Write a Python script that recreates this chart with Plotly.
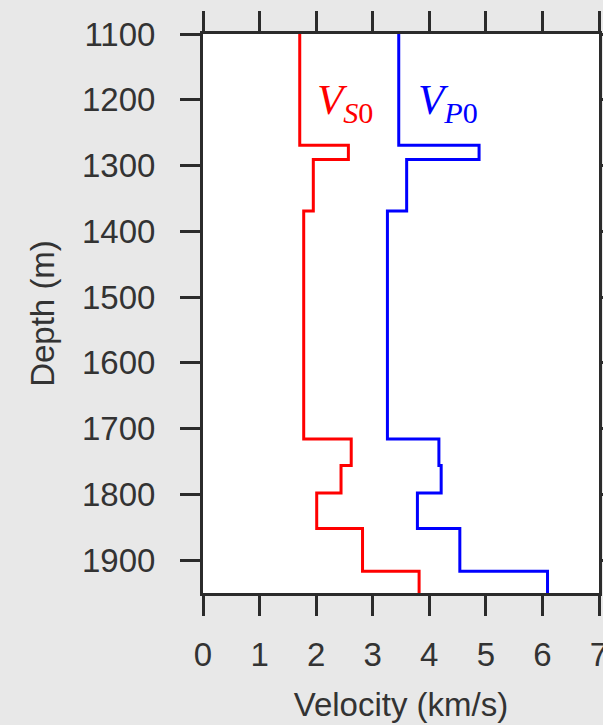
import plotly.graph_objects as go

# Layer boundaries (m) and interval velocities (km/s)
depth_bounds = [1100, 1269, 1291, 1369, 1716, 1756, 1798, 1852, 1917, 1950]
vs0 = [1.71, 2.57, 1.95, 1.78, 2.62, 2.44, 2.01, 2.82, 3.82]
vp0 = [3.46, 4.88, 3.60, 3.26, 4.17, 4.21, 3.79, 4.54, 6.09]

x_ticks = [0, 1, 2, 3, 4, 5, 6, 7]
y_ticks = [1100, 1200, 1300, 1400, 1500, 1600, 1700, 1800, 1900]

AX = "#2b2b2b"
FONT = "Liberation Sans"
FS = 33


def step_xy(vals):
    xs = list(vals) + [vals[-1]]
    ys = list(depth_bounds)
    return xs, ys


fig = go.Figure()
for vals, col in [(vs0, "#ff0000"), (vp0, "#0000ff")]:
    xs, ys = step_xy(vals)
    fig.add_trace(go.Scatter(x=xs, y=ys, mode="lines", line_shape="vh",
                             line=dict(color=col, width=3), showlegend=False,
                             hoverinfo="skip"))

fig.add_annotation(x=1.98, y=1205, xref="x", yref="y", xanchor="left", yanchor="middle",
                   text="<i>V</i><sub><i>S</i>0</sub>", showarrow=False,
                   font=dict(family="Liberation Serif", size=43, color="#ff0000"))
fig.add_annotation(x=3.76, y=1205, xref="x", yref="y", xanchor="left", yanchor="middle",
                   text="<i>V</i><sub><i>P</i>0</sub>", showarrow=False,
                   font=dict(family="Liberation Serif", size=43, color="#0000ff"))

axis_common = dict(showline=True, linecolor=AX, linewidth=3, mirror="ticks",
                   ticks="outside", ticklen=20, tickwidth=3, tickcolor=AX,
                   showgrid=False, zeroline=False, ticklabeloverflow="allow",
                   tickfont=dict(family=FONT, size=FS, color="#333333"))

fig.update_xaxes(range=[0, 7], tickvals=x_ticks, ticktext=[str(t) for t in x_ticks],
                 title=dict(text="Velocity (km/s)", font=dict(family=FONT, size=FS, color="#333333"),
                            standoff=22),
                 ticklabelstandoff=10, **axis_common)
fig.update_yaxes(range=[1950, 1100], tickvals=y_ticks, ticktext=[str(t) for t in y_ticks],
                 title=dict(text="Depth (m)", font=dict(family=FONT, size=FS, color="#333333"),
                            standoff=18),
                 ticklabelstandoff=18, **axis_common)

fig.update_layout(width=603, height=725,
                  margin=dict(l=203, r=4, t=34, b=132, autoexpand=False),
                  paper_bgcolor="#e8e8e8", plot_bgcolor="#ffffff",
                  font=dict(family=FONT, color="#333333"))

fig.write_html("out.html")
